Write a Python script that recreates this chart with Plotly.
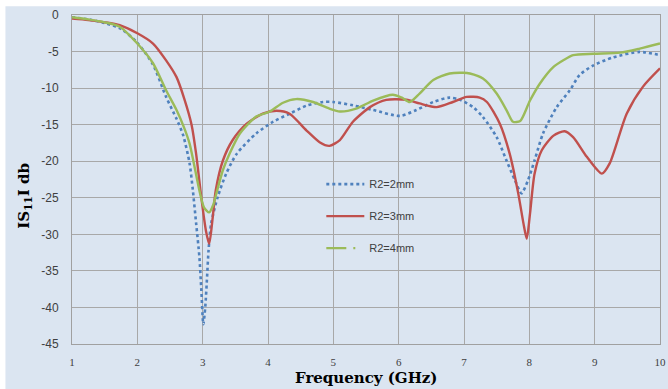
import plotly.graph_objects as go

# Frequency (GHz) and |S11| (dB)
f_r2_2 = [1.0, 1.25, 1.5, 1.75, 2.0, 2.24, 2.44, 2.6, 2.7, 2.8, 2.85, 2.9, 2.95, 2.98, 3.01,
          3.04, 3.07, 3.09, 3.13, 3.23, 3.36, 3.52, 3.82, 4.08, 4.33, 4.59, 4.84, 5.0, 5.3,
          5.61, 6.02, 6.27, 6.53, 6.78, 6.94, 7.14, 7.29, 7.5, 7.65, 7.78, 7.88, 7.98, 8.08,
          8.21, 8.42, 8.62, 8.77, 8.98, 9.28, 9.69, 10.0]
s11_r2_2 = [-0.3, -0.6, -1.1, -1.9, -3.8, -6.8, -11.2, -14.2, -16.4, -20.3, -24.0, -28.5, -33.1,
            -37.7, -42.3, -39.9, -35.4, -32.2, -28.5, -24.9, -21.7, -19.0, -16.2, -14.6, -13.5,
            -12.4, -11.9, -11.9, -12.35, -13.0, -13.8, -13.0, -11.9, -11.3, -11.6, -12.6,
            -13.95, -16.7, -19.9, -22.6, -24.4, -22.6, -19.9, -16.2, -12.6, -10.3, -8.2, -6.9,
            -5.8, -5.05, -5.5]

f_r2_3 = [1.0, 1.25, 1.5, 1.73, 2.0, 2.24, 2.44, 2.6, 2.72, 2.83, 2.9, 2.98, 3.05, 3.10, 3.15,
          3.2, 3.31, 3.46, 3.67, 3.92, 4.13, 4.33, 4.59, 4.79, 4.94, 5.10, 5.30, 5.56, 5.81,
          6.12, 6.32, 6.58, 6.83, 7.04, 7.24, 7.35, 7.55, 7.70, 7.83, 7.91, 7.96, 8.01, 8.08,
          8.19, 8.37, 8.54, 8.67, 8.88, 9.11, 9.23, 9.49, 9.74, 10.0]
s11_r2_3 = [-0.5, -0.7, -1.0, -1.4, -2.5, -3.9, -6.2, -8.5, -11.5, -15.0, -19.0, -25.0, -29.5,
            -31.3, -28.0, -24.0, -19.9, -17.1, -14.9, -13.5, -13.1, -13.5, -15.8, -17.4, -17.9,
            -17.1, -14.6, -12.6, -11.6, -11.6, -12.1, -12.6, -11.9, -11.2, -11.3, -11.9, -14.9,
            -19.0, -24.4, -28.5, -30.6, -27.2, -21.7, -18.5, -16.5, -15.9, -16.7, -19.4, -21.7,
            -20.3, -13.5, -9.8, -7.3]

f_r2_4 = [1.0, 1.25, 1.5, 1.73, 2.0, 2.24, 2.44, 2.6, 2.72, 2.80, 2.95, 3.02, 3.10, 3.16, 3.21,
          3.31, 3.41, 3.57, 3.82, 4.03, 4.23, 4.43, 4.69, 4.94, 5.10, 5.35, 5.61, 5.91, 6.05,
          6.17, 6.32, 6.53, 6.78, 6.99, 7.09, 7.29, 7.50, 7.65, 7.75, 7.86, 8.01, 8.16, 8.37,
          8.52, 8.67, 8.98, 9.39, 9.69, 10.0]
s11_r2_4 = [-0.3, -0.6, -1.0, -1.6, -3.9, -6.6, -10.3, -13.0, -15.5, -17.6, -24.0, -26.3, -27.0,
            -26.0, -24.4, -21.2, -19.0, -16.2, -13.9, -13.2, -12.0, -11.5, -11.9, -12.8, -13.2,
            -12.8, -11.7, -10.9, -11.3, -11.9, -10.75, -8.9, -8.0, -7.9, -8.0, -8.7, -10.75,
            -13.0, -14.6, -14.5, -11.7, -9.4, -7.1, -6.2, -5.5, -5.3, -5.15, -4.6, -3.9]

x_ticks = [1, 2, 3, 4, 5, 6, 7, 8, 9, 10]
y_ticks = [0, -5, -10, -15, -20, -25, -30, -35, -40, -45]

BLUE = "#4F81BD"
RED = "#C0504D"
GREEN = "#9BBB59"

fig = go.Figure()
fig.add_trace(go.Scatter(x=f_r2_2, y=s11_r2_2, mode="lines", name="R2=2mm",
                         line=dict(color=BLUE, width=2.6, dash="dot", shape="spline", smoothing=0.7),
                         legendgroup="a"))
fig.add_trace(go.Scatter(x=f_r2_3, y=s11_r2_3, mode="lines", name="R2=3mm",
                         line=dict(color=RED, width=2.4, shape="spline", smoothing=0.7),
                         legendgroup="b"))
fig.add_trace(go.Scatter(x=f_r2_4, y=s11_r2_4, mode="lines", name="R2=4mm", showlegend=False,
                         line=dict(color=GREEN, width=2.4, shape="spline", smoothing=0.7),
                         legendgroup="c"))
fig.add_trace(go.Scatter(x=[None], y=[None], mode="lines", name="R2=4mm",
                         line=dict(color=GREEN, width=2.4, dash="20px,7px,2px,10px"),
                         legendgroup="c"))

# light-blue chart area background
fig.add_shape(type="rect", xref="paper", yref="paper",
              x0=-0.1132, x1=1.02, y0=-0.14, y1=1.0264,
              fillcolor="#DBE5F1", line=dict(width=0), layer="below")

fig.update_layout(
    width=668, height=389,
    margin=dict(l=72, r=8, t=15, b=45, autoexpand=False),
    paper_bgcolor="white",
    plot_bgcolor="white",
    showlegend=True,
    legend=dict(x=0.424, y=0.53, xanchor="left", yanchor="top",
                bgcolor="rgba(0,0,0,0)", borderwidth=0, itemwidth=38,
                font=dict(family="Liberation Sans", size=11, color="#404040"),
                tracegroupgap=13, traceorder="grouped"),
    xaxis=dict(range=[1, 10], tickvals=x_ticks, ticktext=[str(v) for v in x_ticks],
               automargin=False,
               showgrid=True, gridcolor="#A8A8A8", gridwidth=1,
               showline=True, linecolor="#A0A0A0", linewidth=1, mirror=True,
               zeroline=False, ticks="", ticklabelstandoff=8,
               tickfont=dict(family="Liberation Serif", size=11, color="#404040")),
    yaxis=dict(range=[-45, 0], tickvals=y_ticks, ticktext=[str(v) for v in y_ticks],
               automargin=False,
               showgrid=True, gridcolor="#A8A8A8", gridwidth=1,
               showline=True, linecolor="#A0A0A0", linewidth=1, mirror=True,
               zeroline=False, ticks="", ticklabelstandoff=10,
               tickfont=dict(family="Liberation Sans", size=12, color="#404040")),
    annotations=[
        dict(text="<b>Frequency (GHz)</b>", xref="paper", yref="paper",
             x=0.5, y=-0.104, xanchor="center", yanchor="middle", showarrow=False,
             font=dict(family="DejaVu Serif", size=15, color="black")),
        dict(text="<b>IS<sub>11</sub>I db</b>", xref="paper", yref="paper",
             x=-0.081, y=0.452, xanchor="center", yanchor="middle", showarrow=False,
             textangle=-90,
             font=dict(family="DejaVu Serif", size=15, color="black")),
    ],
)

fig.write_html("out.html")
